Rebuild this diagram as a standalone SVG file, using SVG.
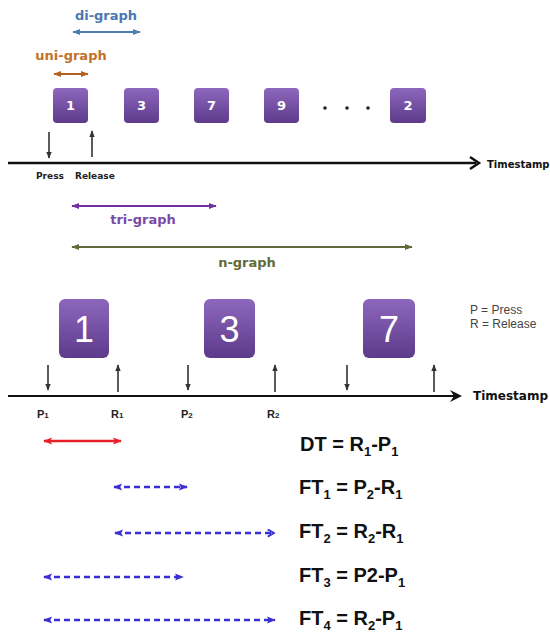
<svg xmlns="http://www.w3.org/2000/svg" width="550" height="635" viewBox="0 0 550 635">
  <style>
    .key rect { fill: url(#keyFill); }
    .ksmall { font-family: "DejaVu Sans", sans-serif; font-weight: bold; font-size: 13px; fill: #ffffff; text-anchor: middle; }
    .kbig { font-family: "Liberation Sans", Arial, sans-serif; font-size: 36px; fill: #ffffff; text-anchor: middle; }
    .glabel { font-family: "DejaVu Sans", sans-serif; font-weight: bold; font-size: 13px; }
    .pr { font-family: "DejaVu Sans", sans-serif; font-weight: bold; font-size: 9px; fill: #222; }
    .ts { font-family: "DejaVu Sans", sans-serif; font-weight: bold; fill: #111; }
    .ev { font-family: "Liberation Sans", Arial, sans-serif; font-weight: bold; font-size: 11px; fill: #222; }
    .ev tspan.s { font-size: 8px; }
    .legend { font-family: "Liberation Sans", Arial, sans-serif; font-size: 12px; fill: #444; }
    .eq { font-family: "Liberation Sans", Arial, sans-serif; font-weight: bold; font-size: 20px; fill: #111; }
    .eq tspan.s { font-size: 13px; }
    .tick { stroke: #333; stroke-width: 1.6; fill: none; }
    .dash { stroke: #3a2fd0; stroke-width: 2.5; stroke-dasharray: 6 4; fill: none; }
  </style>
  <defs>
    <linearGradient id="keyFill" x1="0" y1="0" x2="0" y2="1">
      <stop offset="0" stop-color="#8d67bd"/>
      <stop offset="1" stop-color="#5d3a8a"/>
    </linearGradient>
    <marker id="mBlue" viewBox="0 0 10 10" refX="9" refY="5" markerWidth="8" markerHeight="8" markerUnits="userSpaceOnUse" orient="auto-start-reverse">
      <path d="M0,1 L10,5 L0,9 z" fill="#4f7db0"/>
    </marker>
    <marker id="mOrange" viewBox="0 0 10 10" refX="9" refY="5" markerWidth="8" markerHeight="8" markerUnits="userSpaceOnUse" orient="auto-start-reverse">
      <path d="M0,1 L10,5 L0,9 z" fill="#b5601e"/>
    </marker>
    <marker id="mPurple" viewBox="0 0 10 10" refX="9" refY="5" markerWidth="8" markerHeight="8" markerUnits="userSpaceOnUse" orient="auto-start-reverse">
      <path d="M0,1 L10,5 L0,9 z" fill="#7030a0"/>
    </marker>
    <marker id="mOlive" viewBox="0 0 10 10" refX="9" refY="5" markerWidth="8" markerHeight="8" markerUnits="userSpaceOnUse" orient="auto-start-reverse">
      <path d="M0,1 L10,5 L0,9 z" fill="#5f6b3a"/>
    </marker>
    <marker id="mRed" viewBox="0 0 10 10" refX="9" refY="5" markerWidth="9" markerHeight="9" markerUnits="userSpaceOnUse" orient="auto-start-reverse">
      <path d="M0,1 L10,5 L0,9 L2,5 z" fill="#e8202a"/>
    </marker>
    <marker id="mDash" viewBox="0 0 10 10" refX="9" refY="5" markerWidth="9" markerHeight="9" markerUnits="userSpaceOnUse" orient="auto-start-reverse">
      <path d="M0,1 L10,5 L0,9 L2,5 z" fill="#3a2fd0"/>
    </marker>
    <marker id="mDashOpen" viewBox="0 0 10 10" refX="9" refY="5" markerWidth="9" markerHeight="9" markerUnits="userSpaceOnUse" orient="auto">
      <path d="M2,1 L9,5 L2,9" fill="none" stroke="#3a2fd0" stroke-width="2"/>
    </marker>
    <marker id="mTick" viewBox="0 0 10 10" refX="9" refY="5" markerWidth="7" markerHeight="7" markerUnits="userSpaceOnUse" orient="auto">
      <path d="M0,1 L10,5 L0,9 z" fill="#333"/>
    </marker>
  </defs>

  <!-- upper sequence of keys -->
  <g id="key-top-1" class="key"><rect x="53" y="88" width="35" height="35" rx="4"/><text class="ksmall" x="70.5" y="110">1</text></g>
  <g id="key-top-3" class="key"><rect x="124" y="88" width="35" height="35" rx="4"/><text class="ksmall" x="141.5" y="110">3</text></g>
  <g id="key-top-7" class="key"><rect x="194" y="88" width="35" height="35" rx="4"/><text class="ksmall" x="211.5" y="110">7</text></g>
  <g id="key-top-9" class="key"><rect x="264" y="88" width="35" height="35" rx="4"/><text class="ksmall" x="281.5" y="110">9</text></g>
  <g id="ellipsis" fill="#222"><circle cx="325" cy="108" r="1.8"/><circle cx="347" cy="108" r="1.8"/><circle cx="368" cy="108" r="1.8"/></g>
  <g id="key-top-2" class="key"><rect x="390" y="88" width="36" height="35" rx="4"/><text class="ksmall" x="408" y="110">2</text></g>

  <!-- n-gram spans -->
  <g id="labels-top">
    <text class="glabel" x="106" y="20" text-anchor="middle" fill="#4a78b0">di-graph</text>
    <text class="glabel" x="71" y="60" text-anchor="middle" fill="#c0712a">uni-graph</text>
    <text class="glabel" x="143" y="224" text-anchor="middle" fill="#7a4aa8">tri-graph</text>
    <text class="glabel" x="247" y="267" text-anchor="middle" fill="#5f6b3a">n-graph</text>
    <text class="pr" x="36" y="179">Press</text>
    <text class="pr" x="75" y="179">Release</text>
    <text class="ts" x="487" y="168" font-size="10">Timestamp</text>
  </g>

  <!-- lower sequence of keys -->
  <g id="key-bottom-1" class="key"><rect x="59" y="299" width="50" height="59" rx="6"/><text class="kbig" x="84" y="342">1</text></g>
  <g id="key-bottom-3" class="key"><rect x="204" y="299" width="51" height="59" rx="6"/><text class="kbig" x="229.5" y="342">3</text></g>
  <g id="key-bottom-7" class="key"><rect x="363" y="299" width="52" height="59" rx="6"/><text class="kbig" x="389" y="342">7</text></g>

  <g id="legend">
    <text class="legend" x="470" y="314">P = Press</text>
    <text class="legend" x="470" y="328">R = Release</text>
  </g>

  <g id="events">
    <text class="ev" x="37" y="418">P<tspan class="s">1</tspan></text>
    <text class="ev" x="111" y="418">R<tspan class="s">1</tspan></text>
    <text class="ev" x="181" y="418">P<tspan class="s">2</tspan></text>
    <text class="ev" x="267" y="418">R<tspan class="s">2</tspan></text>
    <text class="ts" x="473" y="400" font-size="12">Timestamp</text>
  </g>

  <g id="formulas">
    <text class="eq" x="300" y="451">DT = R<tspan class="s" dy="5">1</tspan><tspan dy="-5">-P</tspan><tspan class="s" dy="5">1</tspan></text>
    <text class="eq" x="299" y="494">FT<tspan class="s" dy="5">1</tspan><tspan dy="-5"> = P</tspan><tspan class="s" dy="5">2</tspan><tspan dy="-5">-R</tspan><tspan class="s" dy="5">1</tspan></text>
    <text class="eq" x="299" y="538">FT<tspan class="s" dy="5">2</tspan><tspan dy="-5"> = R</tspan><tspan class="s" dy="5">2</tspan><tspan dy="-5">-R</tspan><tspan class="s" dy="5">1</tspan></text>
    <text class="eq" x="299" y="582">FT<tspan class="s" dy="5">3</tspan><tspan dy="-5"> = P2-P</tspan><tspan class="s" dy="5">1</tspan></text>
    <text class="eq" x="299" y="625">FT<tspan class="s" dy="5">4</tspan><tspan dy="-5"> = R</tspan><tspan class="s" dy="5">2</tspan><tspan dy="-5">-P</tspan><tspan class="s" dy="5">1</tspan></text>
  </g>

  <!-- connectors -->
  <g id="connectors">
    <!-- span arrows -->
    <line x1="73" y1="32" x2="140" y2="32" stroke="#4f7db0" stroke-width="2" marker-start="url(#mBlue)" marker-end="url(#mBlue)"/>
    <line x1="54" y1="74" x2="88" y2="74" stroke="#b5601e" stroke-width="2" marker-start="url(#mOrange)" marker-end="url(#mOrange)"/>
    <line x1="72" y1="206" x2="216" y2="206" stroke="#7030a0" stroke-width="2" marker-start="url(#mPurple)" marker-end="url(#mPurple)"/>
    <line x1="72" y1="247" x2="412" y2="247" stroke="#5f6b3a" stroke-width="2" marker-start="url(#mOlive)" marker-end="url(#mOlive)"/>

    <!-- upper time axis -->
    <line x1="8" y1="163" x2="476" y2="163" stroke="#111" stroke-width="2.5"/>
    <path d="M470,157 L479,163 L470,169" fill="none" stroke="#111" stroke-width="2.5"/>
    <line class="tick" x1="49" y1="132" x2="49" y2="158" marker-end="url(#mTick)"/>
    <line class="tick" x1="92" y1="157" x2="92" y2="131" marker-end="url(#mTick)"/>

    <!-- lower time axis -->
    <line x1="8" y1="396" x2="458" y2="396" stroke="#111" stroke-width="2"/>
    <path d="M450,390 L462,396 L450,402 L454,396 z" fill="#111"/>
    <line class="tick" x1="48" y1="365" x2="48" y2="390" marker-end="url(#mTick)"/>
    <line class="tick" x1="118" y1="392" x2="118" y2="365" marker-end="url(#mTick)"/>
    <line class="tick" x1="188" y1="365" x2="188" y2="390" marker-end="url(#mTick)"/>
    <line class="tick" x1="275" y1="392" x2="275" y2="365" marker-end="url(#mTick)"/>
    <line class="tick" x1="347" y1="365" x2="347" y2="390" marker-end="url(#mTick)"/>
    <line class="tick" x1="434" y1="392" x2="434" y2="365" marker-end="url(#mTick)"/>

    <!-- dwell and flight intervals -->
    <line x1="44" y1="441" x2="121" y2="441" stroke="#e8202a" stroke-width="2.5" marker-start="url(#mRed)" marker-end="url(#mRed)"/>
    <line class="dash" x1="114" y1="487" x2="187" y2="487" marker-start="url(#mDash)" marker-end="url(#mDash)"/>
    <line class="dash" x1="115" y1="533" x2="274" y2="533" marker-start="url(#mDash)" marker-end="url(#mDashOpen)"/>
    <line class="dash" x1="44" y1="577" x2="183" y2="577" marker-start="url(#mDash)" marker-end="url(#mDash)"/>
    <line class="dash" x1="44" y1="620" x2="275" y2="620" marker-start="url(#mDash)" marker-end="url(#mDash)"/>
  </g>
</svg>
